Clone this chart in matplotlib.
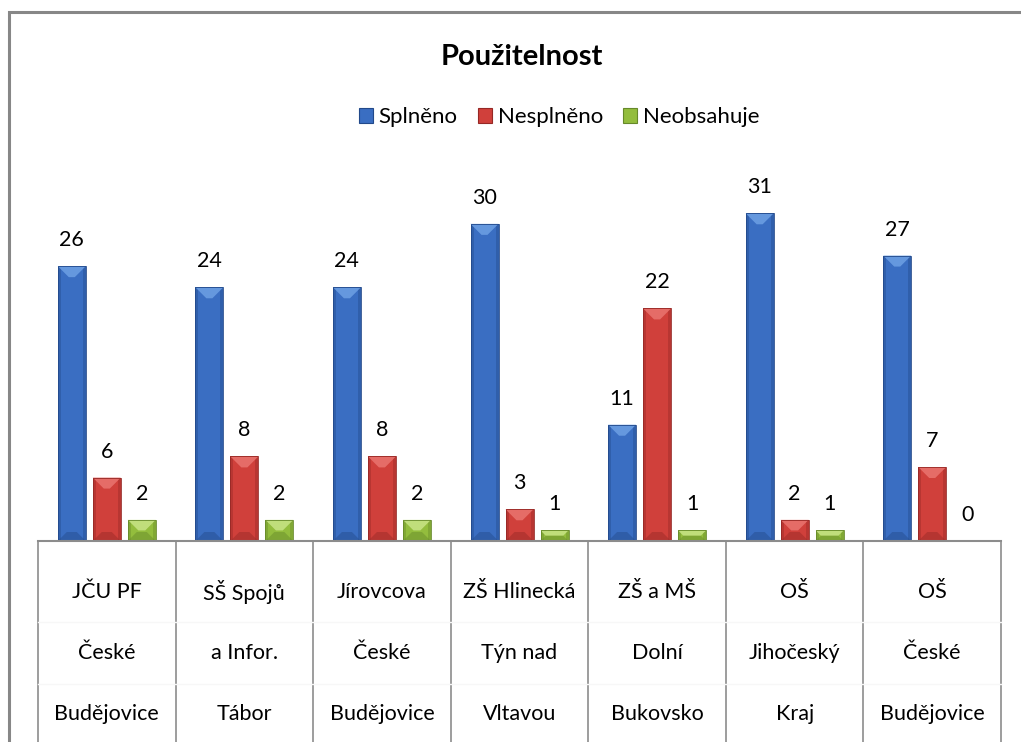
import numpy as np
import matplotlib.pyplot as plt
from matplotlib.patches import Polygon, Rectangle
from matplotlib.lines import Line2D

plt.rcParams['font.family'] = ['Lato', 'DejaVu Sans']

# DATA
schools = [
    ("JČU PF", "České", "Budějovice"),
    ("SŠ Spojů", "a Infor.", "Tábor"),
    ("Jírovcova", "České", "Budějovice"),
    ("ZŠ Hlinecká", "Týn nad", "Vltavou"),
    ("ZŠ a MŠ", "Dolní", "Bukovsko"),
    ("OŠ", "Jihočeský", "Kraj"),
    ("OŠ", "České", "Budějovice"),
]
series_names = ["Splněno", "Nesplněno", "Neobsahuje"]
splneno = [26, 24, 24, 30, 11, 31, 27]
nesplneno = [6, 8, 8, 3, 22, 2, 7]
neobsahuje = [2, 2, 2, 1, 1, 1, 0]

# colours: (face, light, dark)
palette = [
    ("#3a6ec2", "#6a9de2", "#22498a"),
    ("#d0403b", "#e8716c", "#962825"),
    ("#93bd3d", "#c6e283", "#66892a"),
]

W, H = 1021, 742
DPI = 100
fig = plt.figure(figsize=(W / DPI, H / DPI), dpi=DPI)

# plot area in pixels
ax_left, ax_right = 38, 1001
ax_bottom, ax_top = 541, 171
ymax = 35
ax = fig.add_axes([ax_left / W, 1 - ax_bottom / H,
                   (ax_right - ax_left) / W, (ax_bottom - ax_top) / H])
ax.set_xlim(-0.5, len(schools) - 0.5)
ax.set_ylim(0, ymax)
ax.set_axis_off()

px_x = (ax_right - ax_left) / len(schools)   # pixels per category
px_y = (ax_bottom - ax_top) / ymax           # pixels per unit

bar_w = 28 / px_x
step = 35 / px_x
x = np.arange(len(schools))


def bevel_bar(xc, h, face, light, dark):
    if h <= 0:
        return
    x0, x1 = xc - bar_w / 2, xc + bar_w / 2
    ax.add_patch(Rectangle((x0, 0), bar_w, h, facecolor=face, edgecolor="none"))
    side = 3 / px_x
    ax.add_patch(Rectangle((x0, 0), side, h, facecolor=dark, edgecolor="none", alpha=0.4))
    ax.add_patch(Rectangle((x1 - side, 0), side, h, facecolor=dark, edgecolor="none", alpha=0.4))
    # light chevron on top, darker one at the foot
    d = min(11 / px_y, h / 2)
    ax.add_patch(Polygon([(x0, h), (x1, h), (x1 - d * px_y / px_x, h - d),
                          (x0 + d * px_y / px_x, h - d)],
                         closed=True, facecolor=light, edgecolor="none", alpha=0.9))
    db = min(9 / px_y, h / 2)
    ax.add_patch(Polygon([(x0, 0), (x1, 0), (x1 - db * px_y / px_x, db),
                          (x0 + db * px_y / px_x, db)],
                         closed=True, facecolor=dark, edgecolor="none", alpha=0.45))
    ax.add_patch(Rectangle((x0, 0), bar_w, h, facecolor="none", edgecolor=dark, lw=0.6))


handles = []
for k, (vals, (face, light, dark)) in enumerate(zip([splneno, nesplneno, neobsahuje], palette)):
    xs = x + (k - 1) * step
    for xc, v in zip(xs, vals):
        bevel_bar(xc, v, face, light, dark)
        ax.annotate(str(v), (xc, v), xytext=(0, 26), textcoords="offset pixels",
                    ha="center", va="center", fontsize=15.5, color="#000000")
    handles.append(Rectangle((0, 0), 1, 1, facecolor=face, edgecolor=dark, linewidth=0.8))

# category axis drawn as a table below the bars
tr = ax.get_xaxis_transform()
below = (H - ax_bottom) / (ax_bottom - ax_top)
ax.add_line(Line2D([-0.5, len(schools) - 0.5], [0, 0], transform=tr,
                   color="#8c8c8c", lw=1.5, clip_on=False))
for b in np.arange(len(schools) + 1) - 0.5:
    ax.add_line(Line2D([b, b], [0, -below], transform=tr,
                       color="#8c8c8c", lw=1.2, clip_on=False))
row_y = [592, 653, 714]
for yy in [622, 684]:
    ax.add_line(Line2D([-0.5, len(schools) - 0.5], [-(yy - ax_bottom) / (ax_bottom - ax_top)] * 2,
                       transform=tr, color="#f7f7f7", lw=1, clip_on=False))
for i, lines in enumerate(schools):
    for txt, yy in zip(lines, row_y):
        ax.text(i, -(yy - ax_bottom) / (ax_bottom - ax_top), txt, transform=tr,
                ha="center", va="center", fontsize=15.5, clip_on=False)

fig.text(522 / W, 1 - 57 / H, "Použitelnost", ha="center", va="center",
         fontsize=21, fontweight="bold")
fig.legend(handles, series_names, loc="center", bbox_to_anchor=(559 / W, 1 - 117 / H),
           ncol=3, frameon=False, fontsize=16, handlelength=0.65, handleheight=0.65,
           handletextpad=0.25, columnspacing=0.9)

# chart border
fig.patches.append(Rectangle((9 / W, -0.05), 1.2, 1 - 12 / H + 0.05, transform=fig.transFigure,
                             facecolor="none", edgecolor="#878787", lw=2.2))

fig.savefig("out.png", dpi=DPI, facecolor="white")
